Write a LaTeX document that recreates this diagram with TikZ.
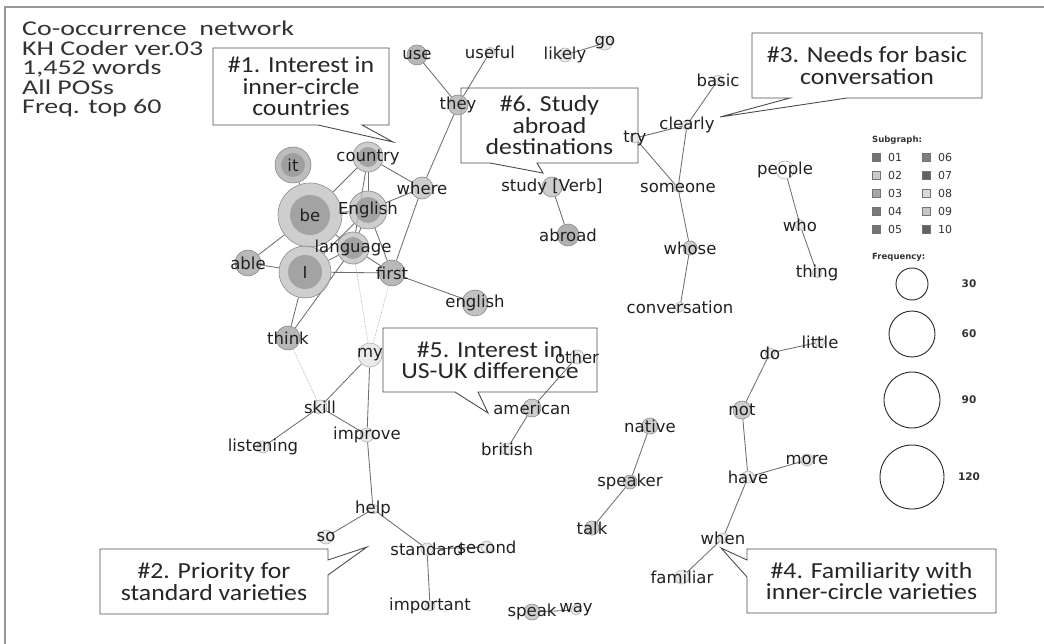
\documentclass[tikz,border=0pt]{standalone}
\usepackage{fontspec}
\setmainfont{DejaVu Sans}
\newfontfamily\boxfont[FakeStretch=1.12]{Carlito}
\newfontfamily\headfont[FakeStretch=1.33]{Carlito}
\usetikzlibrary{backgrounds}

\definecolor{linkgray}{HTML}{6E6E6E}
\definecolor{halogray}{HTML}{C2C2C2}
\definecolor{coregray}{HTML}{989898}
\definecolor{rimgray}{HTML}{8A8A8A}
\definecolor{dotgray}{HTML}{ABABAB}
\definecolor{inkgray}{HTML}{202020}

\tikzset{
  word/.style={circle, inner sep=0pt, minimum size=#1, fill=halogray, fill opacity=0.8, draw=rimgray, line width=0.6pt},
  pale/.style={word=#1, fill=black!10, draw=black!30},
  core/.style={path picture={\fill[coregray] (path picture bounding box.center) circle (#1);}},
  lab/.style={font=\fontsize{16.5}{16.5}\selectfont, text=inkgray, text opacity=1, inner sep=0pt},
  link/.style={draw=linkgray, line width=0.85pt},
  faint/.style={draw=dotgray, densely dotted, line width=0.7pt},
  remark/.style={align=center, inner sep=0pt, font=\boxfont\fontsize{23}{21.5}\selectfont, text=black!85},
  outline/.style={draw=black!70, line width=0.9pt, line join=miter},
  swatch/.style={draw=black!55, minimum size=8pt, inner sep=0pt},
  legendtxt/.style={font=\fontsize{11}{11}\selectfont, text=black!80, inner sep=0pt},
  legendhead/.style={font=\bfseries\fontsize{8.5}{8.5}\selectfont, text=black!80, inner sep=0pt, anchor=west},
}

\begin{document}
\begin{tikzpicture}[x=1pt, y=-1pt]
    \useasboundingbox (0,0) rectangle (1044,644);
    % frame
    \draw[black!40, line width=1.2pt] (5,644) -- (5,7) -- (1044,7);

    % header
    \node[anchor=north west, align=left, inner sep=0pt, font=\headfont\fontsize{21}{19.5}\selectfont, text=black!80] (title) at (22,21)
        {Co-occurrence\ \ network\\KH Coder ver.03\\1,452 words\\All POSs\\Freq. top 60};

    % callouts
    \draw[outline] (213,48) -- (389,48) -- (389,125) -- (362,125) -- (393,142) -- (318,125) -- (213,125) -- cycle;
    \node[remark] (note1) at (301,86.5) {\#1. Interest in\\inner-circle\\countries};
    \draw[outline] (100,549) -- (328,549) -- (328,560) -- (367,547) -- (328,575) -- (328,614) -- (100,614) -- cycle;
    \node[remark] (note2) at (214,581.5) {\#2. Priority for\\standard varieties};
    \draw[outline] (752,33) -- (982,33) -- (982,98) -- (847,98) -- (720,117) -- (790,98) -- (752,98) -- cycle;
    \node[remark] (note3) at (867,65.5) {\#3. Needs for basic\\conversation};
    \draw[outline] (747,549) -- (996,549) -- (996,613) -- (747,613) -- (747,577) -- (721,548) -- (747,560) -- cycle;
    \node[remark] (note4) at (871.5,581) {\#4. Familiarity with\\inner-circle varieties};
    \draw[outline] (383,328) -- (597,328) -- (597,392) -- (478,392) -- (488,413) -- (455,392) -- (383,392) -- cycle;
    \node[remark] (note5) at (490,360) {\#5. Interest in\\US-UK difference};
    \draw[outline] (461,88) -- (638,88) -- (638,163) -- (537,163) -- (543,173) -- (490,163) -- (461,163) -- cycle;
    \node[remark] (note6) at (549.5,125.5) {\#6. Study\\abroad\\destinations};

    % subgraph 1
    \node[word=64pt, core=20pt, label={[lab]center:be}] (be) at (310,215) {};
    \node[word=52pt, core=17pt, label={[lab]center:I}] (I) at (305,272) {};
    \node[word=36pt, core=12pt, fill=black!32, label={[lab]center:it}] (it) at (293,165) {};
    \node[word=30pt, core=10pt, label={[lab]center:country}] (country) at (368,157) {};
    \node[word=38pt, core=13pt, label={[lab]center:English}] (English) at (368,210) {};
    \node[word=32pt, core=11pt, label={[lab]center:language}] (language) at (353,248) {};
    \node[word=22pt, label={[lab]center:where}] (where) at (422,188) {};
    \node[word=26pt, fill=black!35, label={[lab]center:first}] (first) at (392,273) {};
    \node[word=26pt, fill=black!30, label={[lab]center:english}] (englishlc) at (475,303) {};
    \node[word=26pt, fill=black!35, label={[lab]center:able}] (able) at (248,263) {};
    \node[word=24pt, fill=black!35, label={[lab]center:think}] (think) at (288,338) {};
    \node[word=20pt, fill=black!30, label={[lab]center:they}] (they) at (458,105) {};
    \node[word=20pt, fill=black!35, label={[lab]center:use}] (use) at (417,55) {};
    \node[pale=10pt, label={[lab]center:useful}] (useful) at (490,52) {};

    % subgraph 2
    \node[pale=24pt, label={[lab]center:my}] (my) at (370,355) {};
    \node[pale=14pt, label={[lab]center:skill}] (skill) at (320,407) {};
    \node[pale=14pt, label={[lab]center:improve}] (improve) at (367,435) {};
    \node[pale=12pt, label={[lab]center:listening}] (listening) at (263,447) {};
    \node[pale=10pt, label={[lab]center:help}] (help) at (373,509) {};
    \node[pale=14pt, label={[lab]center:so}] (so) at (326,537) {};
    \node[pale=12pt, label={[lab]center:standard}] (standard) at (427,549) {};
    \node[pale=12pt, label={[lab]center:second}] (second) at (487,547) {};
    \node[pale=10pt, label={[lab]center:important}] (important) at (430,606) {};

    % subgraph 3
    \node[pale=10pt, label={[lab]center:try}] (try) at (635,138) {};
    \node[pale=10pt, label={[lab]center:clearly}] (clearly) at (687,125) {};
    \node[pale=10pt, label={[lab]center:basic}] (basic) at (718,80) {};
    \node[pale=8pt, label={[lab]center:someone}] (someone) at (678,188) {};
    \node[word=14pt, label={[lab]center:whose}] (whose) at (690,248) {};
    \node[pale=10pt, label={[lab]center:conversation}] (conversation) at (680,307) {};

    % subgraph 4
    \node[pale=10pt, label={[lab]center:do}] (do) at (770,353) {};
    \node[pale=10pt, label={[lab]center:little}] (little) at (820,342) {};
    \node[word=18pt, fill=black!25, label={[lab]center:not}] (not) at (742,410) {};
    \node[pale=12pt, label={[lab]center:have}] (have) at (748,477) {};
    \node[pale=12pt, label={[lab]center:more}] (more) at (807,460) {};
    \node[pale=10pt, label={[lab]center:when}] (when) at (723,538) {};
    \node[pale=14pt, label={[lab]center:familiar}] (familiar) at (682,577) {};

    % subgraph 5
    \node[word=18pt, label={[lab]center:american}] (american) at (532,408) {};
    \node[pale=12pt, label={[lab]center:british}] (british) at (507,449) {};
    \node[pale=14pt, label={[lab]center:other}] (other) at (577,357) {};

    % subgraph 6 and the rest
    \node[word=20pt, label={[lab]center:study [Verb]}] (study) at (552,187) {};
    \node[word=22pt, fill=black!38, label={[lab]center:abroad}] (abroad) at (568,235) {};
    \node[pale=14pt, label={[lab]center:likely}] (likely) at (565,55) {};
    \node[pale=14pt, label={[lab]center:go}] (go) at (605,43) {};
    \node[pale=18pt, fill=white, label={[lab]center:people}] (people) at (785,170) {};
    \node[pale=10pt, label={[lab]center:who}] (who) at (800,225) {};
    \node[pale=10pt, label={[lab]center:thing}] (thing) at (817,273) {};
    \node[word=16pt, label={[lab]center:native}] (native) at (650,426) {};
    \node[word=14pt, label={[lab]center:speaker}] (speaker) at (630,482) {};
    \node[word=14pt, label={[lab]center:talk}] (talk) at (592,528) {};
    \node[word=16pt, label={[lab]center:speak}] (speak) at (532,612) {};
    \node[pale=10pt, label={[lab]center:way}] (way) at (576,610) {};

    % co-occurrence links
    \begin{scope}[on background layer]
        \foreach \a/\b in {it/be, be/I, be/English, be/language, be/country, be/able, I/able,
            I/English, I/language, I/first, I/think, language/think, country/English,
            country/language, country/where, English/where, English/language, English/first,
            language/first, where/first, where/they, first/englishlc, they/use, they/useful,
            my/skill, my/improve, skill/improve, skill/listening, improve/help, help/so,
            help/standard, standard/second, standard/important, american/other,
            american/british, likely/go, study/abroad, try/clearly, clearly/basic,
            clearly/someone, try/someone, someone/whose, whose/conversation, people/who,
            who/thing, do/little, do/not, not/have, have/more, have/when, when/familiar,
            native/speaker, speaker/talk, speak/way}
            \draw[link] (\a) -- (\b);
        \foreach \a/\b in {language/my, first/my, think/skill}
            \draw[faint] (\a) -- (\b);
    \end{scope}

    % legend
    \node[legendhead] (subhead) at (872,140) {Subgraph:};
    \foreach \n/\s [count=\k from 0] in {01/55,02/20,03/35,04/52,05/55}
    {
        \node[swatch, fill=black!\s] (sw\n) at (876,157+18*\k) {};
        \node[legendtxt, anchor=west] (sl\n) at (888,157+18*\k) {\n};
    }
    \foreach \n/\s [count=\k from 0] in {06/50,07/62,08/15,09/22,10/62}
    {
        \node[swatch, fill=black!\s] (sw\n) at (926,157+18*\k) {};
        \node[legendtxt, anchor=west] (sl\n) at (938,157+18*\k) {\n};
    }
    \node[legendhead] (freqhead) at (872,257) {Frequency:};
    \foreach \f/\r/\y in {30/16/284, 60/23/334, 90/28/400, 120/32/477}
    {
        \node[circle, draw=black!85, line width=0.9pt, minimum size=2*\r pt, inner sep=0pt] (f\f) at (912,\y) {};
        \node[legendtxt, font=\bfseries\fontsize{10.5}{10.5}\selectfont] (fl\f) at (969,\y) {\f};
    }
\end{tikzpicture}
\end{document}
